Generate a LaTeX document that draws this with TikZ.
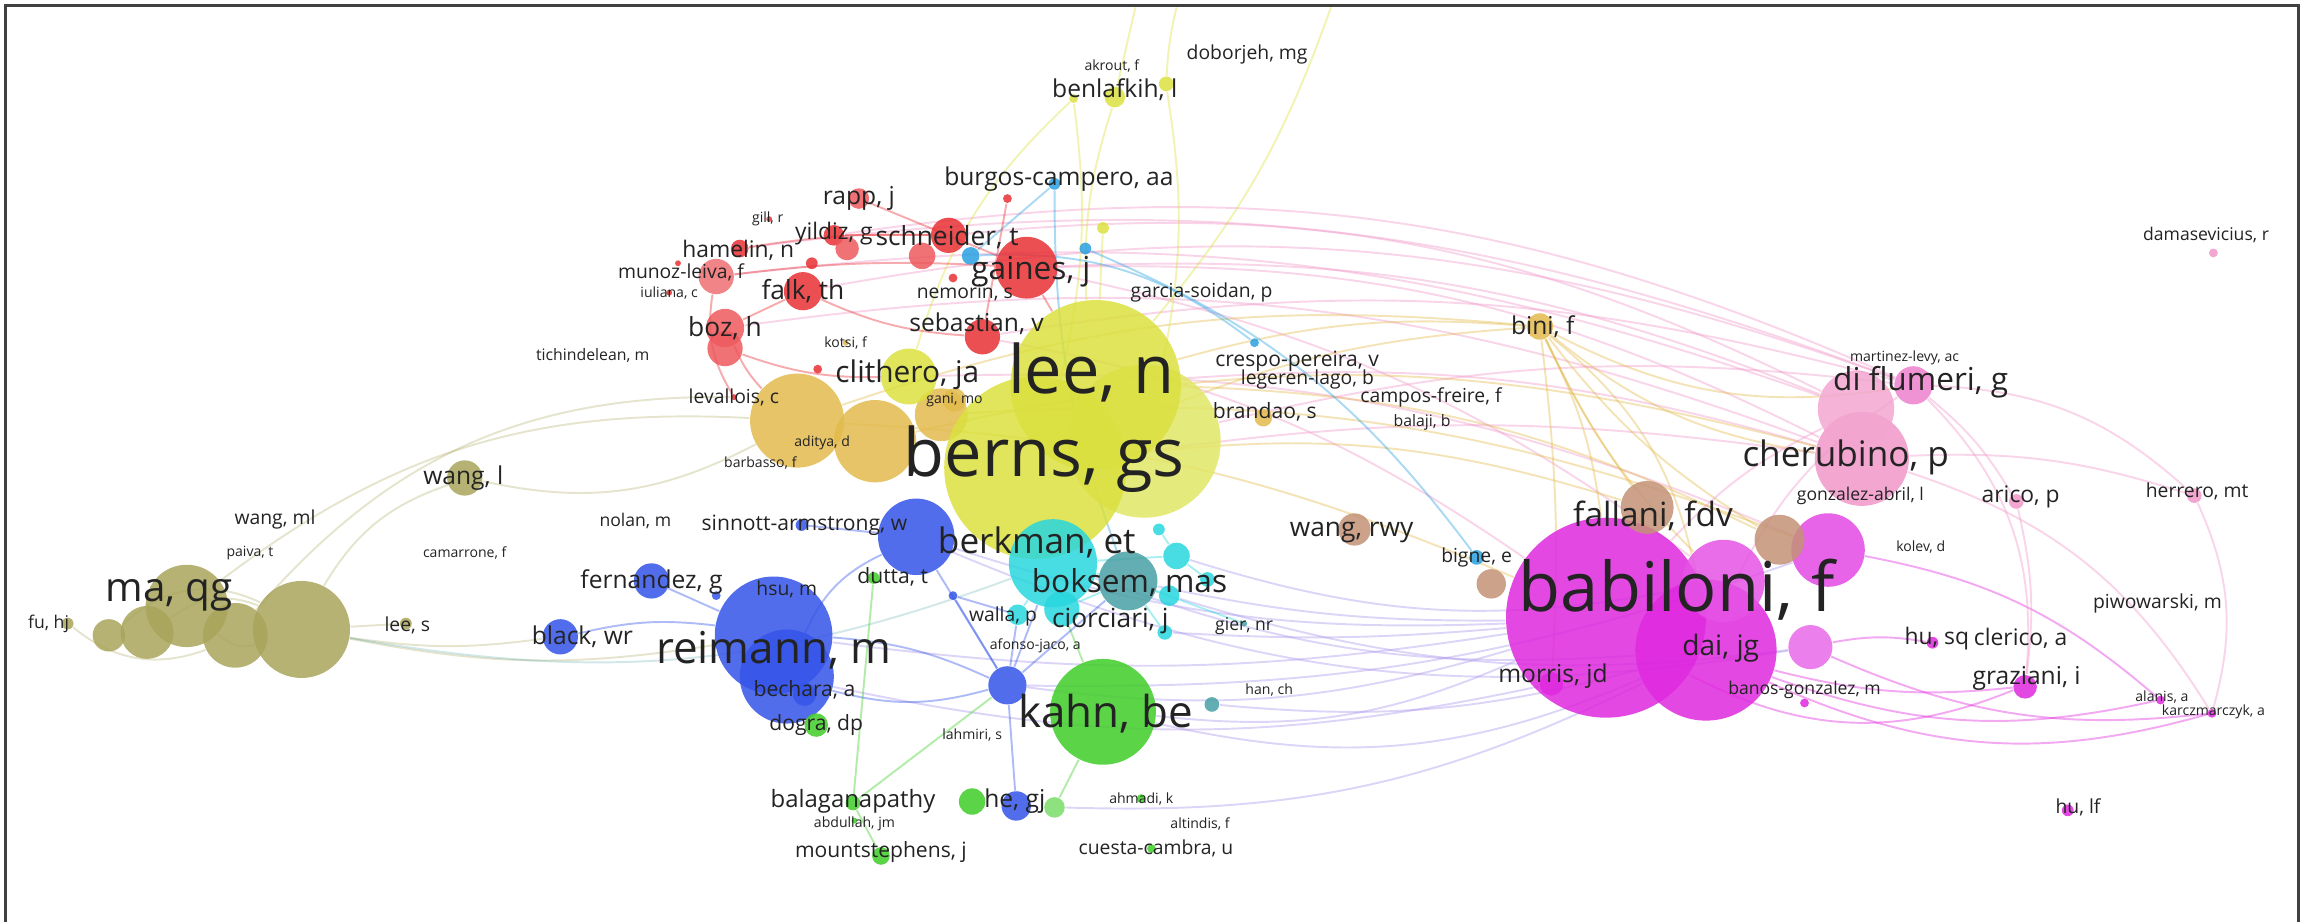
\documentclass[tikz,border=0pt]{standalone}
\usepackage{fontspec}
\setmainfont{Open Sans}
\usepackage{xcolor}
\usepackage{tikz}
\pgfdeclarelayer{bg}
\pgfsetlayers{bg,main}

\definecolor{yel}{RGB}{218,224,62}
\definecolor{gold}{RGB}{226,186,76}
\definecolor{redb}{RGB}{232,48,52}
\definecolor{sky}{RGB}{40,160,225}
\definecolor{blu}{RGB}{52,84,232}
\definecolor{cya}{RGB}{40,214,222}
\definecolor{tea}{RGB}{72,160,164}
\definecolor{gre}{RGB}{64,205,40}
\definecolor{oli}{RGB}{168,164,90}
\definecolor{mag}{RGB}{222,40,222}
\definecolor{pin}{RGB}{240,150,200}
\definecolor{bro}{RGB}{196,146,118}
\definecolor{lil}{RGB}{170,150,235}
\definecolor{txt}{RGB}{35,35,35}

\tikzset{
  bub/.style={circle,inner sep=0pt,minimum size=#1*0.2941mm,fill opacity=0.85},
  lbl/.style={font=\fontsize{#1}{#1}\selectfont,text=txt,inner sep=0pt},
  edge/.style={draw=#1,draw opacity=0.4,line width=0.55pt},
  frame/.style={draw=black!75,line width=0.9pt}
}

\begin{document}
\begin{tikzpicture}[x=0.014707cm,y=-0.014707cm]
\useasboundingbox (0,0) rectangle (1568,627);
\draw[frame] (4,627) -- (4,4) -- (1563,4) -- (1563,627);

% olive cluster
\node (ma1)[bub=33,fill=oli] at (205,428) {};
\node (ma2)[bub=28,fill=oli] at (127,412) {};
\node (ma5)[bub=22,fill=oli] at (160,432) {};
\node (ma3)[bub=18,fill=oli] at (100,430) {};
\node (ma4)[bub=11,fill=oli] at (74,432) {};
\node (fu)[bub=4,fill=oli] at (46,424) {};
\node (wangl)[bub=12,fill=oli] at (316,325) {};
\node (lees)[bub=4,fill=oli] at (276,424) {};

% gold cluster
\node (gold1)[bub=32,fill=gold] at (542,286) {};
\node (gold2)[bub=28,fill=gold] at (595,300) {};
\node (gold3)[bub=18,fill=gold] at (640,282) {};
\node (gani)[bub=8,fill=gold] at (649,272) {};
\node (bini)[bub=9,fill=gold] at (1047,222) {};
\node (brand)[bub=6,fill=gold] at (859,284) {};
\node (kotsi)[bub=2,fill=gold] at (575,233) {};

% yellow cluster
\node (yel3)[bub=52,fill=yel!80!white] at (778,300) {};
\node (berns)[bub=62,fill=yel] at (704,318) {};
\node (lee)[bub=58,fill=yel] at (745,262) {};
\node (clith)[bub=19,fill=yel] at (618,256) {};
\node (benl)[bub=7,fill=yel] at (758,66) {};
\node (benl2)[bub=3,fill=yel] at (730,67) {};
\node (benl3)[bub=5,fill=yel] at (793,57) {};
\node (yel4)[bub=4,fill=yel] at (750,155) {};

% red cluster
\node (gaines)[bub=21,fill=redb] at (698,182) {};
\node (schn)[bub=12,fill=redb] at (645,160) {};
\node (schn2)[bub=9,fill=redb!80!white] at (627,174) {};
\node (falk)[bub=13,fill=redb] at (546,198) {};
\node (boz)[bub=13,fill=redb!80!white] at (493,223) {};
\node (boz2)[bub=12,fill=redb!80!white] at (493,237) {};
\node (munoz)[bub=12,fill=redb!70!white] at (487,188) {};
\node (munoz2)[bub=2,fill=redb] at (461,179) {};
\node (ham)[bub=6,fill=redb] at (503,169) {};
\node (rapp)[bub=7,fill=redb!80!white] at (584,135) {};
\node (seb)[bub=12,fill=redb] at (668,229) {};
\node (yild)[bub=7,fill=redb] at (567,160) {};
\node (yild2)[bub=8,fill=redb!80!white] at (576,169) {};
\node (gill)[bub=2,fill=redb] at (523,149) {};
\node (red2)[bub=4,fill=redb] at (552,179) {};
\node (iul)[bub=2,fill=redb] at (455,199) {};
\node (red3)[bub=3,fill=redb] at (556,251) {};
\node (burg)[bub=3,fill=redb] at (685,135) {};
\node (nem)[bub=3,fill=redb] at (648,189) {};
\node (leval)[bub=2,fill=redb] at (499,270) {};

% sky blue
\node (sky1)[bub=6,fill=sky] at (660,174) {};
\node (sky2)[bub=4,fill=sky] at (717,125) {};
\node (sky3)[bub=4,fill=sky] at (738,169) {};
\node (sky4)[bub=3,fill=sky] at (853,233) {};
\node (bigne)[bub=5,fill=sky] at (1004,379) {};

% blue cluster
\node (berk)[bub=26,fill=blu] at (623,365) {};
\node (reim)[bub=40,fill=blu] at (526,432) {};
\node (reim2)[bub=32,fill=blu] at (535,460) {};
\node (fern)[bub=12,fill=blu] at (443,395) {};
\node (black)[bub=12,fill=blu] at (381,433) {};
\node (sinn)[bub=4,fill=blu] at (545,357) {};
\node (bech)[bub=8,fill=blu] at (547,472) {};
\node (blu1)[bub=13,fill=blu] at (685,466) {};
\node (he)[bub=10,fill=blu] at (691,548) {};
\node (blu2)[bub=3,fill=blu] at (487,405) {};
\node (blu3)[bub=3,fill=blu] at (648,405) {};

% cyan and teal
\node (cy1)[bub=30,fill=cya] at (716,383) {};
\node (cy2)[bub=9,fill=cya] at (800,378) {};
\node (cy3)[bub=7,fill=cya] at (795,405) {};
\node (cy4)[bub=5,fill=cya] at (821,394) {};
\node (cy5)[bub=4,fill=cya] at (788,360) {};
\node (cy6)[bub=12,fill=cya] at (722,414) {};
\node (cy7)[bub=7,fill=cya] at (692,418) {};
\node (cy8)[bub=5,fill=cya] at (792,430) {};
\node (boks)[bub=20,fill=tea] at (767,395) {};
\node (han)[bub=5,fill=tea] at (824,479) {};
\node (gier)[bub=2,fill=tea] at (846,424) {};

% green cluster
\node (kahn)[bub=36,fill=gre] at (750,484) {};
\node (dogra)[bub=8,fill=gre] at (555,493) {};
\node (bala)[bub=5,fill=gre] at (580,546) {};
\node (gre1)[bub=9,fill=gre] at (661,545) {};
\node (gre2)[bub=7,fill=gre!70!white] at (717,549) {};
\node (mount)[bub=6,fill=gre] at (599,582) {};
\node (ahm)[bub=3,fill=gre] at (776,543) {};
\node (cuesta)[bub=3,fill=gre] at (783,577) {};
\node (dutta)[bub=4,fill=gre] at (594,393) {};
\node (abd)[bub=2,fill=gre] at (581,558) {};

% pink cluster
\node (cher)[bub=32,fill=pin] at (1266,312) {};
\node (cher2)[bub=26,fill=pin!85!white] at (1262,278) {};
\node (difl)[bub=13,fill=pin!80!mag] at (1301,262) {};
\node (arico)[bub=5,fill=pin] at (1371,341) {};
\node (herr)[bub=5,fill=pin] at (1492,337) {};
\node (damas)[bub=3,fill=pin] at (1505,172) {};

% magenta cluster
\node (bab)[bub=68,fill=mag] at (1092,420) {};
\node (bab2)[bub=48,fill=mag] at (1160,442) {};
\node (bab5)[bub=28,fill=mag!80!white] at (1172,395) {};
\node (bab3)[bub=25,fill=mag!85!white] at (1243,374) {};
\node (bab4)[bub=15,fill=mag!70!white] at (1231,440) {};
\node (morr)[bub=8,fill=mag] at (1055,465) {};
\node (graz)[bub=8,fill=mag] at (1377,467) {};
\node (husq)[bub=4,fill=mag] at (1314,437) {};
\node (karc)[bub=3,fill=mag] at (1504,485) {};
\node (alan)[bub=3,fill=mag] at (1469,476) {};
\node (hulf)[bub=4,fill=mag] at (1406,551) {};
\node (banos)[bub=3,fill=mag] at (1227,478) {};

% brown
\node (fall)[bub=18,fill=bro] at (1120,345) {};
\node (bro2)[bub=17,fill=bro] at (1210,367) {};
\node (wrwy)[bub=11,fill=bro] at (921,360) {};
\node (bro3)[bub=10,fill=bro] at (1014,397) {};

% loose ends at the top
\coordinate (top1) at (772,5);
\coordinate (top2) at (800,5);
\coordinate (top3) at (905,5);

\begin{pgfonlayer}{bg}
% pink arcs over the top
\draw[edge=pin] (cher) to[bend right=14] (gaines);
\draw[edge=pin] (cher2) to[bend right=16] (schn);
\draw[edge=pin] (difl) to[bend right=12] (seb);
\draw[edge=pin] (difl) to[bend right=15] (falk);
\draw[edge=pin] (cher) to[bend right=10] (lee);
\draw[edge=pin] (difl) to[bend right=14] (ham);
\draw[edge=pin] (cher2) to[bend right=12] (gaines);
\draw[edge=pin] (bab3) to[bend right=12] (clith);
\draw[edge=pin] (cher) to[bend right=14] (boz);
\draw[edge=pin] (difl) to[bend right=10] (yel3);
\draw[edge=pin] (bab) to[bend right=12] (seb);
\draw[edge=pin] (cher2) to[bend right=13] (munoz);
\draw[edge=pin] (difl) to[bend right=16] (yild);
\draw[edge=pin] (bab5) to[bend right=12] (gaines);
\draw[edge=pin] (cher) to[bend right=8] (berns);
% gold arcs
\draw[edge=gold] (bini) to[bend right=10] (lee);
\draw[edge=gold] (bini) to[bend right=12] (gold1);
\draw[edge=gold] (bini) to[bend right=10] (berns);
\draw[edge=gold] (bini) to[bend left=10] (bab);
\draw[edge=gold] (bini) to[bend left=20] (bab2);
\draw[edge=gold] (bini) to[bend right=10] (bab5);
\draw[edge=gold] (bini) to[bend left=5] (morr);
\draw[edge=gold] (bini) to[bend right=5] (fall);
\draw[edge=gold] (bini) to[bend right=10] (bro2);
\draw[edge=gold] (bini) to[bend right=15] (cher);
\draw[edge=gold] (bini) to[bend right=18] (difl);
\draw[edge=gold] (cher) to[bend right=14] (gold2);
\draw[edge=gold] (bab3) to[bend right=12] (gold3);
\draw[edge=gold] (fall) to[bend right=12] (berns);
\draw[edge=gold] (bab) to[bend right=10] (gold1);
\draw[edge=gold] (bro2) to[bend right=12] (lee);
% lilac arcs below
\draw[edge=lil] (bab) to[bend left=10] (berk);
\draw[edge=lil] (bab) to[bend left=15] (kahn);
\draw[edge=lil] (bab2) to[bend left=18] (kahn);
\draw[edge=lil] (bab) to[bend left=12] (blu1);
\draw[edge=lil] (bab) to[bend left=8] (reim);
\draw[edge=lil] (bab2) to[bend left=12] (cy1);
\draw[edge=lil] (bab) to[bend left=6] (boks);
\draw[edge=lil] (bab4) to[bend left=16] (berk);
\draw[edge=lil] (bab5) to[bend left=14] (cy2);
\draw[edge=lil] (bab2) to[bend left=14] (gre2);
\draw[edge=lil] (morr) to[bend left=12] (reim2);
\draw[edge=lil] (bab4) to[bend left=12] (cy3);
\draw[edge=lil] (bab2) to[bend left=10] (han);
\draw[edge=lil] (bab) to[bend left=4] (cy8);
\draw[edge=lil] (bab3) to[bend left=10] (blu1);
% right hand side
\draw[edge=mag] (bab) to[bend right=25] (graz);
\draw[edge=mag] (bab2) to[bend right=20] (karc);
\draw[edge=mag] (bab4) to[bend right=15] (karc);
\draw[edge=mag] (bab2) to[bend right=10] (graz);
\draw[edge=mag] (bab4) to[bend left=10] (husq);
\draw[edge=mag] (bab3) to[bend left=15] (alan);
\draw[edge=mag] (bab2) to[bend right=16] (alan);
\draw[edge=pin] (difl) to[bend left=20] (herr);
\draw[edge=pin] (cher) to[bend left=10] (herr);
\draw[edge=pin] (difl) to[bend left=25] (graz);
\draw[edge=pin] (cher) to[bend left=20] (karc);
\draw[edge=pin] (difl) to[bend left=10] (arico);
\draw[edge=pin] (herr) to[bend left=20] (karc);
\draw[edge=pin] (arico) to[bend left=10] (graz);
\draw[edge=pin] (cher2) to[bend right=10] (bab);
\draw[edge=pin] (difl) to[bend right=15] (bab2);
% yellow
\draw[edge=yel] (benl) -- (top1);
\draw[edge=yel] (benl3) to[bend left=5] (top2);
\draw[edge=yel] (lee) to[bend right=10] (top3);
\draw[edge=yel] (benl) to[bend right=10] (lee);
\draw[edge=yel] (benl2) to[bend left=10] (berns);
\draw[edge=yel] (benl3) to[bend left=10] (yel3);
\draw[edge=yel] (benl2) to[bend right=15] (clith);
\draw[edge=yel] (yel4) -- (lee);
% sky
\draw[edge=sky] (sky1) to[bend left=20] (sky4);
\draw[edge=sky] (sky2) to[bend right=10] (boks);
\draw[edge=sky] (sky3) to[bend left=15] (bigne);
\draw[edge=sky] (sky1) -- (sky2);
% red
\draw[edge=redb] (munoz) to[bend left=5] (gaines);
\draw[edge=redb] (ham) to[bend left=5] (schn);
\draw[edge=redb] (falk) -- (boz);
\draw[edge=redb] (boz) to[bend right=10] (gold1);
\draw[edge=redb] (rapp) -- (gaines);
\draw[edge=redb] (burg) -- (seb);
\draw[edge=redb] (falk) to[bend right=10] (seb);
\draw[edge=redb] (munoz) to[bend right=20] (leval);
\draw[edge=redb] (boz2) to[bend right=10] (clith);
\draw[edge=redb] (gaines) -- (lee);
\draw[edge=redb] (yild) -- (schn);
% olive
\draw[edge=oli,draw opacity=0.3] (ma1) to[bend left=20] (wangl);
\draw[edge=oli,draw opacity=0.3] (ma5) to[bend left=25] (leval);
\draw[edge=oli,draw opacity=0.3] (wangl) to[bend right=20] (gold1);
\draw[edge=oli,draw opacity=0.3] (ma1) to[bend right=8] (black);
\draw[edge=oli,draw opacity=0.3] (ma1) to[bend right=10] (reim);
\draw[edge=oli,draw opacity=0.3] (ma3) to[bend left=30] (ma1);
\draw[edge=oli,draw opacity=0.3] (ma4) to[bend left=35] (ma1);
\draw[edge=oli,draw opacity=0.3] (fu) to[bend right=30] (ma5);
\draw[edge=oli,draw opacity=0.3] (ma2) to[bend right=30] (ma1);
\draw[edge=oli,draw opacity=0.3] (ma1) -- (lees);
\draw[edge=tea,draw opacity=0.25] (ma1) to[bend right=15] (cy1);
\draw[edge=oli,draw opacity=0.3] (ma2) to[bend left=20] (gold1);
% green
\draw[edge=gre] (blu1) -- (bala);
\draw[edge=gre] (dutta) -- (bala);
\draw[edge=gre] (kahn) -- (gre2);
\draw[edge=gre] (bala) -- (mount);
\draw[edge=gre] (kahn) -- (cy6);
% blue
\draw[edge=blu] (reim) to[bend left=10] (blu1);
\draw[edge=blu] (berk) -- (blu1);
\draw[edge=blu] (blu1) -- (cy7);
\draw[edge=blu] (black) to[bend left=10] (reim);
\draw[edge=blu] (fern) -- (reim);
\draw[edge=blu] (sinn) -- (berk);
\draw[edge=blu] (blu1) -- (boks);
\draw[edge=blu] (blu1) -- (cy1);
\draw[edge=blu] (reim2) to[bend right=15] (blu1);
\draw[edge=blu] (berk) to[bend right=20] (reim2);
\draw[edge=blu] (blu1) -- (he);
\draw[edge=blu] (blu3) -- (blu1);
\draw[edge=blu] (blu3) -- (cy7);
% cyan
\draw[edge=cya] (cy1) -- (boks);
\draw[edge=cya] (cy1) -- (cy2);
\draw[edge=cya] (boks) -- (cy3);
\draw[edge=cya] (cy2) -- (cy4);
\draw[edge=cya] (cy6) -- (boks);
\draw[edge=cya] (cy7) -- (cy1);
\draw[edge=cya] (cy2) -- (cy5);
\draw[edge=cya] (boks) -- (cy8);
\draw[edge=cya] (boks) -- (gier);
\end{pgfonlayer}

% labels
\node (Lakrout)[lbl=4] at (756,45) {akrout, f};
\node (Ldoborjeh)[lbl=5.5] at (848,37) {doborjeh, mg};
\node (Lbenl)[lbl=7] at (758,61) {benlafkih, l};
\node (Lburg)[lbl=7] at (720,122) {burgos-campero, aa};
\node (Lrapp)[lbl=7] at (584,135) {rapp, j};
\node (Lgill)[lbl=4] at (522,149) {gill, r};
\node (Lyild)[lbl=6.5] at (567,159) {yildiz, g};
\node (Lschn)[lbl=7.5] at (644,161) {schneider, t};
\node (Lham)[lbl=6.5] at (502,170) {hamelin, n};
\node (Lgaines)[lbl=9] at (701,185) {gaines, j};
\node (Lmunoz)[lbl=5.5] at (463,185) {munoz-leiva, f};
\node (Lfalk)[lbl=7.5] at (546,198) {falk, th};
\node (Liul)[lbl=4] at (455,199) {iuliana, c};
\node (Lnem)[lbl=5.5] at (656,199) {nemorin, s};
\node (Lgarcia)[lbl=5.5] at (817,199) {garcia-soidan, p};
\node (Lseb)[lbl=7] at (664,220) {sebastian, v};
\node (Lboz)[lbl=7.5] at (493,223) {boz, h};
\node (Lkotsi)[lbl=4] at (575,233) {kotsi, f};
\node (Ltich)[lbl=4.5] at (403,242) {tichindelean, m};
\node (Lcrespo)[lbl=6] at (882,246) {crespo-pereira, v};
\node (Lclith)[lbl=8.5] at (617,255) {clithero, ja};
\node (Llegeren)[lbl=5.5] at (889,258) {legeren-lago, b};
\node (Lgani)[lbl=4] at (649,272) {gani, mo};
\node (Lcampos)[lbl=5.5] at (973,270) {campos-freire, f};
\node (Lleval)[lbl=5.5] at (499,270) {levallois, c};
\node (Lbrand)[lbl=6] at (860,280) {brandao, s};
\node (Lbalaji)[lbl=4.5] at (967,287) {balaji, b};
\node (Laditya)[lbl=4] at (559,301) {aditya, d};
\node (Lbarb)[lbl=4] at (517,315) {barbasso, f};
\node (Lwangl)[lbl=7] at (315,325) {wang, l};
\node (Lbini)[lbl=7] at (1049,222) {bini, f};
\node (Lmart)[lbl=4] at (1295,243) {martinez-levy, ac};
\node (Ldifl)[lbl=9] at (1306,260) {di flumeri, g};
\node (Lcher)[lbl=10] at (1255,311) {cherubino, p};
\node (Lgonz)[lbl=5] at (1265,337) {gonzalez-abril, l};
\node (Larico)[lbl=6.5] at (1374,338) {arico, p};
\node (Lherr)[lbl=5.5] at (1494,334) {herrero, mt};
\node (Ldamas)[lbl=5] at (1500,160) {damasevicius, r};
\node (Lwangml)[lbl=5.5] at (187,353) {wang, ml};
\node (Lnolan)[lbl=5] at (432,354) {nolan, m};
\node (Lsinn)[lbl=6] at (547,357) {sinnott-armstrong, w};
\node (Lfall)[lbl=9.5] at (1124,351) {fallani, fdv};
\node (Lwrwy)[lbl=7.5] at (919,362) {wang, rwy};
\node (Lbigne)[lbl=5.5] at (1004,379) {bigne, e};
\node (Lkolev)[lbl=4] at (1306,372) {kolev, d};
\node (Lpaiva)[lbl=4] at (170,376) {paiva, t};
\node (Lcamar)[lbl=4] at (316,376) {camarrone, f};
\node (Lfern)[lbl=7] at (443,396) {fernandez, g};
\node (Lhsu)[lbl=5.5] at (535,401) {hsu, m};
\node (Ldutta)[lbl=6] at (607,392) {dutta, t};
\node (Lpiwo)[lbl=5.5] at (1467,410) {piwowarski, m};
\node (Lfu)[lbl=5] at (33,424) {fu, hj};
\node (Llees)[lbl=5.5] at (277,425) {lee, s};
\node (Lblack)[lbl=7] at (396,433) {black, wr};
\node (Lwalla)[lbl=5.5] at (682,419) {walla, p};
\node (Lcior)[lbl=7.5] at (755,422) {ciorciari, j};
\node (Lgier)[lbl=5] at (846,426) {gier, nr};
\node (Lafonso)[lbl=4] at (704,439) {afonso-jaco, a};
\node (Ldai)[lbl=8] at (1170,441) {dai, jg};
\node (Lhusq)[lbl=6.5] at (1317,434) {hu, sq};
\node (Lcler)[lbl=6.5] at (1374,434) {clerico, a};
\node (Lbech)[lbl=6] at (547,469) {bechara, a};
\node (Lhan)[lbl=4] at (863,469) {han, ch};
\node (Lmorr)[lbl=7] at (1056,460) {morris, jd};
\node (Lbanos)[lbl=5] at (1227,469) {banos-gonzalez, m};
\node (Lgraz)[lbl=7] at (1378,461) {graziani, i};
\node (Lalan)[lbl=4] at (1470,474) {alanis, a};
\node (Lkarc)[lbl=4] at (1505,484) {karczmarczyk, a};
\node (Ldogra)[lbl=6] at (555,493) {dogra, dp};
\node (Llahm)[lbl=4] at (661,500) {lahmiri, s};
\node (Lbala)[lbl=6.8] at (580,545) {balaganapathy};
\node (Lhe)[lbl=7] at (690,545) {he, gj};
\node (Lahm)[lbl=4] at (776,543) {ahmadi, k};
\node (Labd)[lbl=4] at (581,560) {abdullah, jm};
\node (Lalt)[lbl=4] at (816,560) {altindis, f};
\node (Lmount)[lbl=6] at (599,579) {mountstephens, j};
\node (Lcuesta)[lbl=5.5] at (786,577) {cuesta-cambra, u};
\node (Lhulf)[lbl=5.5] at (1413,549) {hu, lf};
\node (Lberk)[lbl=10] at (705,369) {berkman, et};
\node (Lboks)[lbl=9] at (768,396) {boksem, mas};
\node (Lma)[lbl=11.5] at (115,405) {ma, qg};
\node (Lreim)[lbl=12.5] at (526,442) {reimann, m};
\node (Lkahn)[lbl=12.5] at (752,485) {kahn, be};
\node (Llee)[lbl=19] at (742,253) {lee, n};
\node (Lberns)[lbl=19] at (710,312) {berns, gs};
\node (Lbab)[lbl=19.5] at (1140,401) {babiloni, f};
\end{tikzpicture}
\end{document}
